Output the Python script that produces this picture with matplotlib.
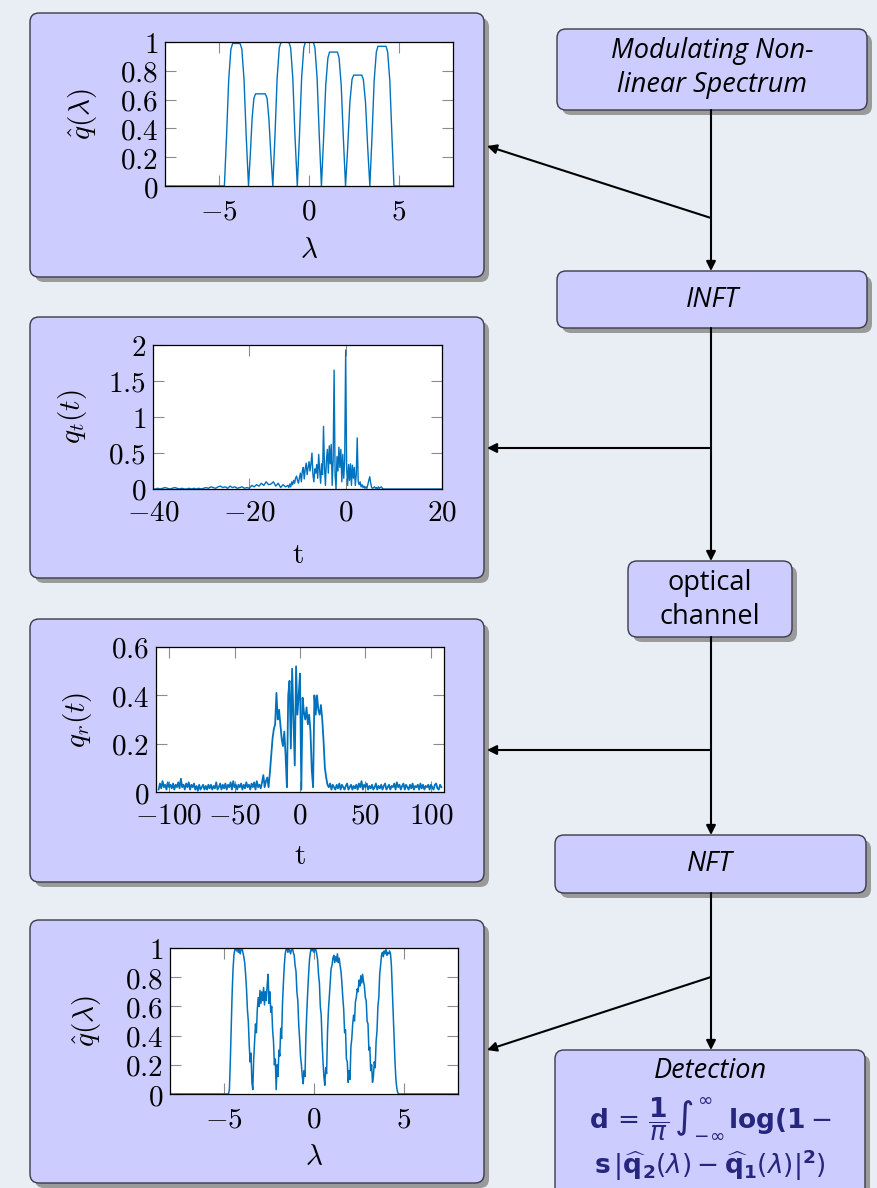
import numpy as np
import matplotlib
matplotlib.use("Agg")
import matplotlib.pyplot as plt
from matplotlib.patches import FancyBboxPatch, FancyArrowPatch

plt.rcParams["mathtext.fontset"] = "cm"

# --- data ---

# transmitted nonlinear spectrum |q^(lambda)|
tx_lam = [-8.0,
          -4.70, -4.58, -4.46, -4.34, -4.24, -3.83, -3.73, -3.61, -3.49,
          -3.36, -3.26, -3.16, -3.06, -2.97, -2.43, -2.33, -2.23, -2.12,
          -2.01, -1.89, -1.77, -1.65, -1.55, -1.12, -1.02, -0.90, -0.78,
          -0.65, -0.53, -0.41, -0.29, -0.20, 0.24, 0.33, 0.45, 0.57,
          0.69, 0.81, 0.93, 1.05, 1.14, 1.58, 1.67, 1.79, 1.91,
          2.03, 2.15, 2.27, 2.39, 2.48, 2.93, 3.02, 3.14, 3.26,
          3.38, 3.50, 3.62, 3.74, 3.83, 4.28, 4.37, 4.49, 4.61,
          4.72, 8.0]
tx_q = [0.0,
        0.0, 0.35, 0.74, 0.95, 0.99, 0.99, 0.95, 0.74, 0.35,
        0.0, 0.22, 0.47, 0.61, 0.64, 0.64, 0.61, 0.47, 0.22,
        0.0, 0.35, 0.75, 0.96, 1.0, 1.0, 0.96, 0.75, 0.35,
        0.0, 0.35, 0.75, 0.96, 1.0, 1.0, 0.96, 0.75, 0.35,
        0.0, 0.33, 0.70, 0.89, 0.93, 0.93, 0.89, 0.70, 0.33,
        0.0, 0.27, 0.58, 0.74, 0.77, 0.77, 0.74, 0.58, 0.27,
        0.0, 0.34, 0.73, 0.93, 0.97, 0.97, 0.93, 0.73, 0.34,
        0.0, 0.0]

# transmitted time signal q_t(t)
qt_t_coarse = [-40.0, -39.5, -39.0, -38.5, -38.0, -37.5, -37.0, -36.5, -36.0, -35.5,
               -35.0, -34.5, -34.0, -33.5, -33.0, -32.5, -32.0, -31.5, -31.0, -30.5,
               -30.0, -29.5, -29.0, -28.5, -28.0, -27.5, -27.0, -26.5, -26.0, -25.5,
               -25.0, -24.5, -24.0, -23.5, -23.0, -22.5, -22.0, -21.5, -21.0, -20.5,
               -20.0, -19.5, -19.0, -18.5, -18.0, -17.5, -17.0, -16.5, -16.0, -15.5,
               -15.0, -14.5, -14.0, -13.5, -13.0, -12.5]
qt_coarse = [0.00, 0.00, 0.01, 0.00, 0.01, 0.02, 0.01, 0.00, 0.01, 0.02,
             0.01, 0.00, 0.01, 0.00, 0.00, 0.01, 0.00, 0.01, 0.00, 0.01,
             0.00, 0.01, 0.02, 0.01, 0.03, 0.02, 0.01, 0.03, 0.04, 0.02,
             0.03, 0.01, 0.04, 0.02, 0.03, 0.01, 0.02, 0.03, 0.01, 0.02,
             0.01, 0.05, 0.03, 0.06, 0.04, 0.08, 0.05, 0.10, 0.06, 0.07,
             0.10, 0.04, 0.08, 0.02, 0.06, 0.03]
qt_fine_start = -12.0
qt_fine_step = 0.2
qt_fine = [0.05, 0.02, 0.07, 0.03, 0.10, 0.06, 0.12, 0.08, 0.15, 0.18,
           0.12, 0.08, 0.16, 0.22, 0.10, 0.25, 0.30, 0.14, 0.28, 0.36,
           0.20, 0.30, 0.38, 0.25, 0.35, 0.50, 0.20, 0.10, 0.28, 0.22,
           0.34, 0.15, 0.48, 0.26, 0.08, 0.35, 0.20, 0.87, 0.30, 0.05,
           0.40, 0.55, 0.22, 0.60, 0.35, 0.62, 0.05, 0.40, 1.65, 0.20,
           0.00, 0.45, 0.25, 0.58, 0.30, 0.55, 0.10, 0.48, 0.15, 0.40,
           1.93, 0.30, 0.05, 0.34, 0.12, 0.35, 0.05, 0.33, 0.15, 0.30,
           0.05, 0.20, 0.71, 0.10, 0.06, 0.10, 0.03, 0.06, 0.02, 0.04,
           0.01, 0.03, 0.01, 0.06, 0.12, 0.17, 0.08, 0.02, 0.01, 0.02,
           0.03, 0.01, 0.02, 0.00, 0.03, 0.01, 0.02, 0.03, 0.01, 0.00,
           0.00]
qt_tail_t = [20.0]
qt_tail = [0.0]

# received time signal q_r(t), one sample per unit of t
qr_start = -108.0
qr_step = 1.0
qr = [0.01, 0.035, 0.015, 0.045, 0.02, 0.03, 0.01, 0.04, 0.02, 0.03,
      0.015, 0.035, 0.01, 0.03, 0.02, 0.04, 0.015, 0.055, 0.02, 0.03,
      0.01, 0.035, 0.02, 0.04, 0.01, 0.03, 0.02, 0.035, 0.01, 0.025,
      0.005, 0.03, 0.01, 0.02, 0.03, 0.01, 0.025, 0.01, 0.03, 0.015,
      0.03, 0.01, 0.025, 0.015, 0.04, 0.01, 0.02, 0.035, 0.01, 0.03,
      0.015, 0.035, 0.01, 0.03, 0.02, 0.04, 0.01, 0.045, 0.02, 0.03,
      0.01, 0.03, 0.02, 0.035, 0.01, 0.03, 0.015, 0.04, 0.02, 0.03,
      0.01, 0.035, 0.02, 0.04, 0.01, 0.045, 0.02, 0.03, 0.015, 0.04,
      0.07, 0.02, 0.045, 0.06, 0.02, 0.08, 0.15, 0.22, 0.26, 0.28,
      0.41, 0.30, 0.34, 0.28, 0.22, 0.19, 0.25, 0.15, 0.02, 0.40,
      0.46, 0.18, 0.51, 0.30, 0.11, 0.52, 0.32, 0.40, 0.49, 0.01,
      0.39, 0.33, 0.30, 0.35, 0.28, 0.32, 0.25, 0.09, 0.02, 0.40,
      0.32, 0.40, 0.34, 0.32, 0.36, 0.30, 0.21, 0.10, 0.06, 0.03,
      0.02, 0.035, 0.01, 0.03, 0.02, 0.01, 0.03, 0.015, 0.035, 0.01,
      0.03, 0.02, 0.01, 0.025, 0.035, 0.01, 0.02, 0.03, 0.01, 0.025,
      0.015, 0.03, 0.01, 0.035, 0.02, 0.045, 0.01, 0.03, 0.02, 0.035,
      0.01, 0.025, 0.015, 0.03, 0.01, 0.02, 0.035, 0.01, 0.025, 0.015,
      0.03, 0.01, 0.025, 0.035, 0.01, 0.02, 0.03, 0.01, 0.025, 0.02,
      0.035, 0.01, 0.04, 0.02, 0.03, 0.01, 0.025, 0.035, 0.01, 0.03,
      0.02, 0.01, 0.03, 0.015, 0.035, 0.01, 0.025, 0.02, 0.03, 0.01,
      0.035, 0.015, 0.03, 0.01, 0.025, 0.02, 0.03, 0.01, 0.03, 0.02,
      0.01, 0.03, 0.035, 0.015, 0.01, 0.03, 0.02]

# received nonlinear spectrum, one sample every 0.05 in lambda
rx_start = -4.75
rx_step = 0.05
rx_q = [0.00, 0.03, 0.22, 0.45, 0.68, 0.85, 0.95, 0.99, 1.00, 0.98,
        1.00, 0.97, 0.99, 0.96, 0.99, 1.00, 0.97, 0.94, 0.90, 0.82,
        0.72, 0.58, 0.50, 0.34, 0.22, 0.28, 0.08, 0.03, 0.24, 0.36,
        0.48, 0.42, 0.58, 0.66, 0.60, 0.71, 0.62, 0.70, 0.64, 0.73,
        0.61, 0.70, 0.64, 0.75, 0.82, 0.62, 0.70, 0.56, 0.60, 0.44,
        0.36, 0.20, 0.24, 0.03, 0.20, 0.12, 0.30, 0.26, 0.45, 0.38,
        0.62, 0.76, 0.88, 0.96, 0.99, 1.00, 0.97, 1.00, 0.98, 0.96,
        0.99, 1.00, 0.97, 0.95, 0.88, 0.84, 0.70, 0.64, 0.48, 0.38,
        0.26, 0.20, 0.12, 0.07, 0.16, 0.12, 0.40, 0.56, 0.70, 0.82,
        0.92, 0.97, 1.00, 0.98, 1.00, 0.97, 1.00, 0.99, 0.96, 0.92,
        0.82, 0.76, 0.60, 0.54, 0.36, 0.22, 0.12, 0.06, 0.18, 0.14,
        0.42, 0.57, 0.66, 0.76, 0.86, 0.88, 0.93, 0.95, 0.90, 0.94,
        0.91, 0.96, 0.90, 0.93, 0.88, 0.84, 0.76, 0.66, 0.58, 0.42,
        0.44, 0.24, 0.22, 0.08, 0.16, 0.10, 0.32, 0.38, 0.48, 0.54,
        0.50, 0.63, 0.66, 0.72, 0.70, 0.78, 0.74, 0.81, 0.76, 0.82,
        0.77, 0.74, 0.66, 0.64, 0.50, 0.48, 0.30, 0.32, 0.16, 0.20,
        0.08, 0.12, 0.22, 0.18, 0.36, 0.43, 0.60, 0.66, 0.82, 0.88,
        0.95, 0.97, 0.94, 0.98, 0.96, 0.99, 0.95, 0.97, 0.96, 0.98,
        0.96, 0.88, 0.72, 0.55, 0.38, 0.22, 0.10, 0.04, 0.01, 0.00]

box_titles = ["Modulating Non-\nlinear Spectrum", "INFT", "optical\nchannel", "NFT", "Detection"]

# --- figure ---
W, H = 878, 1188
BG = "#E8EEF4"
FILL = "#CCCCFF"
EDGE = "#3A3A48"
SHADOW = "#9A9A9A"
LINE = "#0072BD"
NAVY = "#26267F"
SANS = ["Open Sans", "DejaVu Sans"]
TICK_FS = 21
BOX_FS = 19.5

fig = plt.figure(figsize=(W / 100, H / 100), dpi=100)
fig.patch.set_facecolor(BG)
bg = fig.add_axes([0, 0, 1, 1])
bg.set_xlim(0, W)
bg.set_ylim(H, 0)
bg.axis("off")


def box(x0, y0, x1, y1, r=9):
    style = "round,pad=0,rounding_size=%d" % r
    bg.add_patch(FancyBboxPatch((x0 + 5, y0 + 5), x1 - x0, y1 - y0, boxstyle=style,
                                fc=SHADOW, ec="none", zorder=1))
    bg.add_patch(FancyBboxPatch((x0, y0), x1 - x0, y1 - y0, boxstyle=style,
                                fc=FILL, ec=EDGE, lw=1.0, zorder=2))


def arrow(p, q):
    bg.add_patch(FancyArrowPatch(p, q, arrowstyle="-|>", mutation_scale=14,
                                 lw=1.5, color="black", shrinkA=0, shrinkB=0, zorder=3))


# left panels
panels = [(30, 13, 484, 277), (30, 317, 484, 578), (30, 619, 484, 882), (30, 920, 484, 1183)]
for p in panels:
    box(*p)

# right flow boxes
flow = [(557, 29, 867, 110), (557, 271, 867, 328), (628, 561, 792, 637),
        (555, 835, 866, 893), (555, 1050, 865, 1200)]
for p in flow:
    box(*p)

XC = 711
arrow((XC, 110), (XC, 271))
arrow((XC, 218), (487, 146))
arrow((XC, 328), (XC, 561))
arrow((XC, 448), (487, 448))
arrow((XC, 637), (XC, 835))
arrow((XC, 750), (487, 750))
arrow((XC, 893), (XC, 1050))
arrow((XC, 977), (487, 1050))

bg.text(712, 68, box_titles[0], ha="center", va="center", fontsize=BOX_FS, style="italic",
        family=SANS, linespacing=1.3, zorder=4)
bg.text(712, 300, box_titles[1], ha="center", va="center", fontsize=BOX_FS, style="italic",
        family=SANS, zorder=4)
bg.text(710, 600, box_titles[2], ha="center", va="center", fontsize=BOX_FS,
        family=SANS, linespacing=1.3, zorder=4)
bg.text(710, 864, box_titles[3], ha="center", va="center", fontsize=BOX_FS, style="italic",
        family=SANS, zorder=4)
bg.text(710, 1071, box_titles[4], ha="center", va="center", fontsize=BOX_FS, style="italic",
        family=SANS, zorder=4)
bg.text(710, 1118, r"$\mathbf{d}\,=\,\dfrac{\mathbf{1}}{\pi}\,\int_{-\infty}^{\infty}\,\mathbf{log(1}-$",
        ha="center", va="center", fontsize=19, color=NAVY, math_fontfamily="dejavusans", zorder=4)
bg.text(710, 1165, r"$\mathbf{s}\,|\widehat{\mathbf{q}}_{\mathbf{2}}(\lambda)-\widehat{\mathbf{q}}_{\mathbf{1}}(\lambda)|^{\mathbf{2}})$",
        ha="center", va="center", fontsize=19, color=NAVY, math_fontfamily="dejavusans", zorder=4)


def make_ax(rect, xlim, ylim, xt, yt, xlab, ylab, xlab_y, ylab_x, xpad):
    x0, y0, x1, y1 = rect
    ax = fig.add_axes([x0 / W, 1 - y1 / H, (x1 - x0) / W, (y1 - y0) / H])
    ax.set_facecolor("white")
    ax.set_xlim(*xlim)
    ax.set_ylim(*ylim)
    ax.set_xticks(xt)
    ax.set_xticklabels(["$%s$" % v for v in xt])
    ax.set_yticks(yt)
    ax.set_yticklabels(["$%s$" % v for v in yt])
    ax.tick_params(direction="in", length=8, width=0.8, color="#8C8C8C",
                   top=True, right=True, labelsize=TICK_FS)
    ax.tick_params(axis="x", pad=xpad)
    ax.tick_params(axis="y", pad=5)
    for s in ax.spines.values():
        s.set_linewidth(0.9)
        s.set_zorder(5)
    bg.text((x0 + x1) / 2, xlab_y, xlab, ha="center", va="center", fontsize=TICK_FS, zorder=4)
    bg.text(ylab_x, (y0 + y1) / 2, ylab, ha="center", va="center", fontsize=TICK_FS,
            rotation=90, zorder=4)
    return ax


ax1 = make_ax((165, 42, 453, 186), (-8, 8), (0, 1), [-5, 0, 5],
              [0, 0.2, 0.4, 0.6, 0.8, 1], r"$\lambda$", r"$\hat{q}(\lambda)$", 250, 83, 8)
ax1.plot(tx_lam, tx_q, color=LINE, lw=1.0)

ax2 = make_ax((153, 345, 442, 489), (-40, 20), (0, 2), [-40, -20, 0, 20],
              [0, 0.5, 1, 1.5, 2], r"$\mathrm{t}$", r"$q_t(t)$", 555, 73, 6.5)
qt_t = np.concatenate([qt_t_coarse,
                       qt_fine_start + qt_fine_step * np.arange(len(qt_fine)),
                       qt_tail_t])
qt_v = np.concatenate([qt_coarse, qt_fine, qt_tail])
ax2.plot(qt_t, qt_v, color=LINE, lw=1.0)

ax3 = make_ax((156, 647, 444, 792), (-110, 110), (0, 0.6), [-100, -50, 0, 50, 100],
              [0, 0.2, 0.4, 0.6], r"$\mathrm{t}$", r"$q_r(t)$", 856, 78, 6.5)
qr_t = qr_start + qr_step * np.arange(len(qr))
ax3.plot(qr_t, qr, color=LINE, lw=1.3)

ax4 = make_ax((170, 948, 458, 1094), (-8, 8), (0, 1), [-5, 0, 5],
              [0, 0.2, 0.4, 0.6, 0.8, 1], r"$\lambda$", r"$\hat{q}(\lambda)$", 1157, 87, 8)
rx_lam = np.concatenate([[-8.0], rx_start + rx_step * np.arange(len(rx_q)), [8.0]])
rx_v = np.concatenate([[0.0], rx_q, [0.0]])
ax4.plot(rx_lam, rx_v, color=LINE, lw=1.1)

fig.savefig("out.png", dpi=100, facecolor=BG)
